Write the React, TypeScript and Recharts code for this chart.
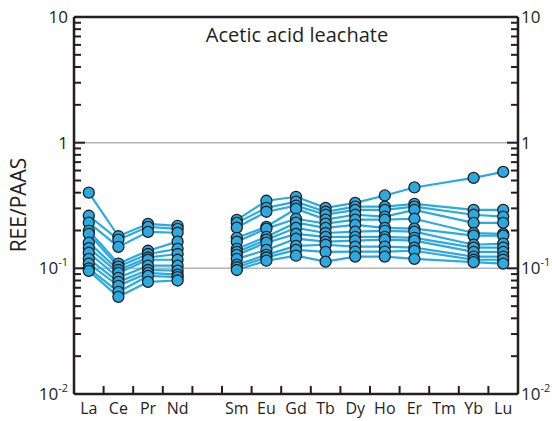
import React from 'react'
import { LineChart, Line, XAxis, YAxis, ReferenceLine } from 'recharts'

// REE/PAAS normalised values, acetic acid leachate (12 samples, sorted high to low per element)
const ELEMENTS = ['La', 'Ce', 'Pr', 'Nd', 'Pm', 'Sm', 'Eu', 'Gd', 'Tb', 'Dy', 'Ho', 'Er', 'Tm', 'Yb', 'Lu']
const LIGHT = ['La', 'Ce', 'Pr', 'Nd']

const La = [0.40, 0.262, 0.231, 0.199, 0.188, 0.16, 0.145, 0.133, 0.119, 0.109, 0.1, 0.0955]
const Ce = [0.18, 0.169, 0.148, 0.109, 0.103, 0.097, 0.092, 0.084, 0.078, 0.0726, 0.065, 0.0593]
const Pr = [0.226, 0.214, 0.195, 0.138, 0.13, 0.122, 0.117, 0.105, 0.097, 0.092, 0.087, 0.078]
const Nd = [0.218, 0.206, 0.192, 0.163, 0.143, 0.13, 0.117, 0.105, 0.096, 0.089, 0.085, 0.08]
const Sm = [0.243, 0.23, 0.211, 0.175, 0.163, 0.143, 0.135, 0.128, 0.119, 0.107, 0.102, 0.097]
const Eu = [0.345, 0.303, 0.282, 0.214, 0.207, 0.178, 0.169, 0.16, 0.14, 0.128, 0.122, 0.115]
const Gd = [0.371, 0.339, 0.315, 0.298, 0.248, 0.231, 0.21, 0.188, 0.172, 0.151, 0.14, 0.126]
const Tb = [0.303, 0.282, 0.267, 0.244, 0.227, 0.21, 0.191, 0.178, 0.163, 0.154, 0.135, 0.113]
const Dy = [0.332, 0.31, 0.292, 0.267, 0.244, 0.222, 0.196, 0.178, 0.166, 0.149, 0.136, 0.124]
const Ho = [0.38, 0.31, 0.292, 0.258, 0.244, 0.21, 0.199, 0.178, 0.169, 0.149, 0.136, 0.124]
const Er = [0.44, 0.326, 0.31, 0.292, 0.248, 0.207, 0.196, 0.175, 0.166, 0.146, 0.138, 0.119]
const Yb = [0.524, 0.292, 0.267, 0.23, 0.191, 0.182, 0.154, 0.146, 0.135, 0.124, 0.117, 0.112]
const Lu = [0.585, 0.292, 0.258, 0.23, 0.188, 0.182, 0.157, 0.146, 0.135, 0.124, 0.117, 0.109]

const MAJOR_TICKS = [0.01, 0.1, 1, 10]
const TICK_LABELS: Record<number, [string, string]> = {
  0.01: ['10', '-2'],
  0.1: ['10', '-1'],
  1: ['1', ''],
  10: ['10', ''],
}

const MEASURED: Record<string, number[]> = { La, Ce, Pr, Nd, Sm, Eu, Gd, Tb, Dy, Ho, Er, Yb, Lu }
const SAMPLE_COUNT = La.length

const rows = ELEMENTS.map((el, idx) => {
  const row: Record<string, number> = { idx }
  const vals = MEASURED[el]
  if (vals) {
    const prefix = LIGHT.includes(el) ? 'a' : 'b'
    vals.forEach((v, i) => { row[prefix + i] = v })
  }
  return row
})

const yTicks: number[] = []
MAJOR_TICKS.slice(0, 3).forEach((d) => {
  for (let m = 1; m < 10; m++) yTicks.push(+(d * m).toPrecision(3))
})
yTicks.push(10)

const W = 552
const H = 421
const PLOT_LEFT = 74
const PLOT_RIGHT = 518
const PLOT_TOP = 17
const PLOT_BOTTOM = 394
const BAND = (PLOT_RIGHT - PLOT_LEFT) / ELEMENTS.length

const INK = '#231f20'
const BLUE = '#29abe2'
const FONT = '"Open Sans", sans-serif'

function isMajor(v: number) {
  return MAJOR_TICKS.some((m) => Math.abs(m - v) < 1e-9)
}

function YTick(props: any) {
  const { y, payload, side } = props
  const v = payload.value as number
  const major = isMajor(v)
  const len = major ? 11 : 7
  const left = side === 'left'
  const x0 = left ? PLOT_LEFT : PLOT_RIGHT
  const x1 = left ? x0 + len : x0 - len
  const lab = TICK_LABELS[v as keyof typeof TICK_LABELS]
  return (
    <g>
      <line x1={x0} x2={x1} y1={y} y2={y} stroke={INK} strokeWidth={2} />
      {major && lab && (
        <text
          x={left ? PLOT_LEFT - 6 : PLOT_RIGHT + 3}
          y={y}
          dy={6}
          textAnchor={left ? 'end' : 'start'}
          fontSize={17}
          fontFamily={FONT}
          fill={INK}
        >
          {lab[0]}
          {lab[1] && (
            <tspan fontSize={11} dy={-8}>{lab[1]}</tspan>
          )}
        </text>
      )}
    </g>
  )
}

function XTick(props: any) {
  const { x, payload } = props
  const i = payload.value as number
  const name = ELEMENTS[i]
  return (
    <g>
      {i < ELEMENTS.length - 1 && (
        <line x1={x + BAND / 2} x2={x + BAND / 2} y1={PLOT_BOTTOM} y2={PLOT_BOTTOM - 8} stroke={INK} strokeWidth={2} />
      )}
      {name !== 'Pm' && (
        <text x={x} y={PLOT_BOTTOM + 20} textAnchor="middle" fontSize={16} fontFamily={FONT} fill={INK}>
          {name}
        </text>
      )}
    </g>
  )
}

export default function App() {
  const keys: string[] = []
  for (let i = 0; i < SAMPLE_COUNT; i++) keys.push('a' + i, 'b' + i)

  return (
    <div style={{ position: 'absolute', left: 0, top: 0, width: W, height: H, background: '#fff' }}>
      <LineChart
        width={W}
        height={H}
        data={rows}
        margin={{ top: PLOT_TOP, right: 0, bottom: 0, left: 0 }}
      >
        <XAxis
          dataKey="idx"
          type="number"
          domain={[-0.5, ELEMENTS.length - 0.5]}
          ticks={ELEMENTS.map((_, i) => i)}
          interval={0}
          height={H - PLOT_BOTTOM}
          tickLine={false}
          axisLine={{ stroke: INK, strokeWidth: 2.5 }}
          tick={<XTick />}
        />
        <YAxis
          yAxisId="left"
          scale="log"
          type="number"
          domain={[0.01, 10]}
          allowDataOverflow
          ticks={yTicks}
          interval={0}
          width={PLOT_LEFT}
          tickLine={false}
          axisLine={{ stroke: INK, strokeWidth: 2.5 }}
          tick={<YTick side="left" />}
        />
        <YAxis
          yAxisId="right"
          orientation="right"
          scale="log"
          type="number"
          domain={[0.01, 10]}
          allowDataOverflow
          ticks={yTicks}
          interval={0}
          width={W - PLOT_RIGHT}
          tickLine={false}
          axisLine={{ stroke: INK, strokeWidth: 2.5 }}
          tick={<YTick side="right" />}
        />
        <ReferenceLine yAxisId="left" y={1} stroke="#b3b3b3" strokeWidth={1.5} />
        <ReferenceLine yAxisId="left" y={0.1} stroke="#b3b3b3" strokeWidth={1.5} />
        <ReferenceLine yAxisId="left" y={10} stroke={INK} strokeWidth={2.5} />
        {keys.map((k) => (
          <Line
            key={'l' + k}
            yAxisId="left"
            dataKey={k}
            stroke={BLUE}
            strokeWidth={2.2}
            dot={false}
            activeDot={false}
            connectNulls={k.startsWith('b')}
            isAnimationActive={false}
          />
        ))}
        {keys.map((k) => (
          <Line
            key={'d' + k}
            yAxisId="left"
            dataKey={k}
            stroke="none"
            dot={{ r: 5.5, fill: BLUE, stroke: INK, strokeWidth: 1.3 }}
            activeDot={false}
            isAnimationActive={false}
          />
        ))}
        <text
          x={0}
          y={0}
          transform="translate(26 205) rotate(-90)"
          textAnchor="middle"
          fontSize={21}
          fontFamily={FONT}
          fill={INK}
        >
          REE/PAAS
        </text>
        <text x={297} y={42} textAnchor="middle" fontSize={20} fontFamily={FONT} fill={INK}>
          Acetic acid leachate
        </text>
      </LineChart>
    </div>
  )
}
